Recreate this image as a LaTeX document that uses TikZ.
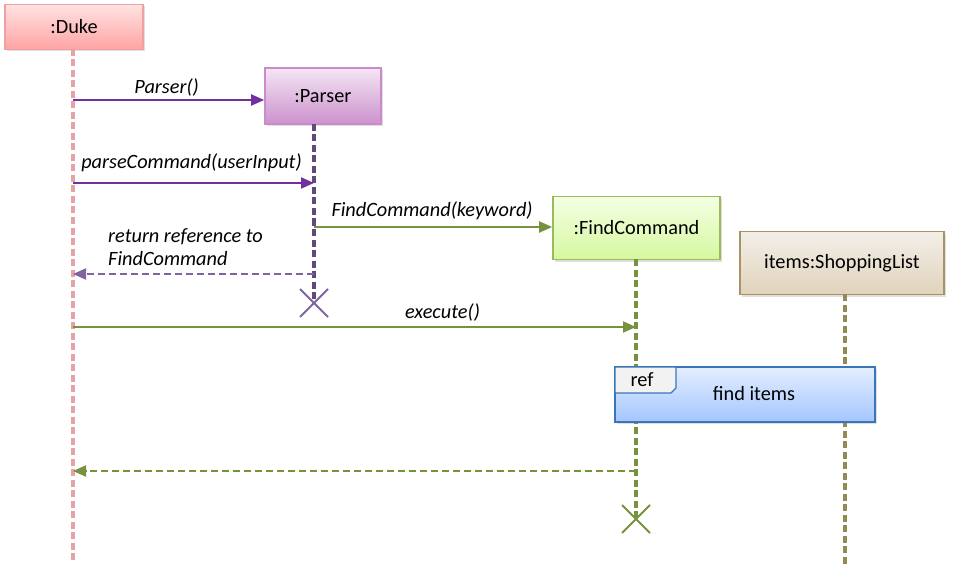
\documentclass[tikz,border=0pt]{standalone}
\usepackage{fontspec}
\setmainfont{Carlito}
\usetikzlibrary{arrows.meta,shadows,calc}
\definecolor{dukeB}{HTML}{F0A0A0}
\definecolor{dukeT}{HTML}{FFE2E2}
\definecolor{dukeM}{HTML}{FFA3A3}
\definecolor{dukeL}{HTML}{E6A3A3}
\definecolor{parB}{HTML}{CC8ACC}
\definecolor{parT}{HTML}{F3E6F3}
\definecolor{parM}{HTML}{CD92CD}
\definecolor{parL}{HTML}{604A7B}
\definecolor{msgP}{HTML}{7030A0}
\definecolor{retP}{HTML}{8064A2}
\definecolor{fcB}{HTML}{9BBB59}
\definecolor{fcT}{HTML}{F4FFE4}
\definecolor{fcM}{HTML}{D6F8A0}
\definecolor{grn}{HTML}{76923C}
\definecolor{slB}{HTML}{A89266}
\definecolor{slT}{HTML}{F3EFE8}
\definecolor{slM}{HTML}{E0D3BC}
\definecolor{slL}{HTML}{948A54}
\definecolor{refB}{HTML}{3A75B8}
\definecolor{refT}{HTML}{E4EEFF}
\definecolor{refM}{HTML}{A4C6FF}
\tikzset{
  x=1pt,y=-1pt,
  every node/.style={font=\fontsize{20.3}{23}\selectfont, inner sep=0pt},
  obj/.style={draw, line width=1.6pt, minimum height=#1, shading=axis, shading angle=0,
    drop shadow={shadow xshift=2pt, shadow yshift=-2pt, opacity=0.25}},
  lifeline/.style={line width=3.2pt, dash pattern=on 7pt off 3.5pt},
  msg/.style={line width=1.9pt, -{Triangle[length=13pt,width=11pt]}},
  ret/.style={line width=1.9pt, dash pattern=on 7pt off 4pt, -{Triangle[length=13pt,width=11pt]}},
  lbl/.style={font=\fontsize{20.3}{23}\selectfont\itshape},
  kill/.style={line width=2pt},
}
\begin{document}
\begin{tikzpicture}
\useasboundingbox (0,0) rectangle (957,577);
% objects
\node[obj=45pt, minimum width=138pt, draw=dukeB, top color=dukeT, bottom color=dukeM] (duke) at (74,27) {:Duke};
\node[obj=56pt, minimum width=116pt, draw=parB, top color=parT, bottom color=parM] (parser) at (323,96) {:Parser};
\node[obj=63pt, minimum width=167pt, draw=fcB, top color=fcT, bottom color=fcM] (fc) at (636.5,228) {:FindCommand};
\node[obj=63pt, minimum width=204pt, draw=slB, top color=slT, bottom color=slM] (sl) at (842,263) {items:ShoppingList};
% lifeline coordinates
\coordinate (dukeEnd) at (73,560);
\coordinate (d1) at (73,100);
\coordinate (d2) at (73,183);
\coordinate (d3) at (73,274);
\coordinate (d4) at (73,327);
\coordinate (d5) at (73,471);
\coordinate (pTop) at (314,124);
\coordinate (p2) at (314,183);
\coordinate (p3) at (314,227);
\coordinate (p4) at (314,274);
\coordinate (pX) at (314,303);
\coordinate (fTop) at (636,259);
\coordinate (f4) at (636,327);
\coordinate (f5) at (636,471);
\coordinate (fX) at (636,519);
\coordinate (sTop) at (845,294);
\coordinate (sEnd) at (845,567);
% lifelines
\draw[lifeline, dukeL] (73,49) -- (dukeEnd);
\draw[lifeline, parL] (pTop) -- (pX);
\draw[lifeline, grn] (fTop) -- (fX);
\draw[lifeline, slL] (sTop) -- (sEnd);
% destruction marks
\draw[kill, retP] ($(pX)+(-14,-14)$) -- ($(pX)+(14,14)$) ($(pX)+(-14,14)$) -- ($(pX)+(14,-14)$);
\draw[kill, grn] ($(fX)+(-14,-14)$) -- ($(fX)+(14,14)$) ($(fX)+(-14,14)$) -- ($(fX)+(14,-14)$);
% messages
\draw[msg, msgP] (d1) -- (d1 -| parser.west) node[lbl, black, midway, above=3pt, xshift=-2pt] {Parser()};
\draw[msg, msgP] (d2) -- (p2) node[lbl, black, midway, above=10pt, xshift=-2pt] {parseCommand(userInput)};
\draw[msg, grn] (p3) -- (p3 -| fc.west) node[lbl, black, midway, above=6pt, xshift=-1pt] {FindCommand(keyword)};
\draw[ret, retP] (p4) -- (d3);
\node[lbl, align=left, anchor=north west, font=\fontsize{20.3}{23}\selectfont\itshape] (rl) at (108,228) {return reference to\\FindCommand};
\draw[msg, grn] (d4) -- (f4) node[lbl, black, midway, above=5pt, xshift=88pt] {execute()};
% ref frame
\node[draw=refB, line width=1.3pt, top color=refT, bottom color=refM, minimum width=260pt, minimum height=55pt,
  drop shadow={shadow xshift=2pt, shadow yshift=-2pt, opacity=0.25}] (ref) at (745,394.5) {};
\node (fi) at (754,394) {find items};
\draw[refB, line width=1.3pt, fill=black!5] (615,367) -- (676,367) -- (676,388) -- (671,393) -- (615,393) -- cycle;
\node (reftxt) at (642,380) {ref};
% final return
\draw[ret, grn] (f5) -- (d5);
\end{tikzpicture}
\end{document}
